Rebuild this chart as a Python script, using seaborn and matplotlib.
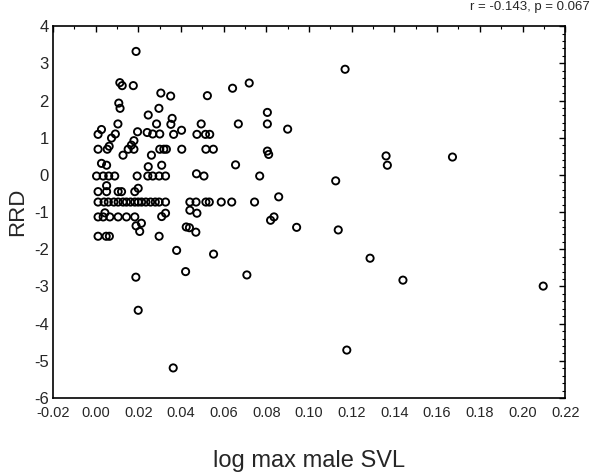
import seaborn as sns
import numpy as np
import pandas as pd
import matplotlib
matplotlib.use("Agg")
import matplotlib.pyplot as plt
from matplotlib.ticker import MultipleLocator

# values
log_svl = [
    0.0190, 0.0114, 0.0125, 0.0177, 0.0306, 0.0352, 0.0524, 0.0642, 0.0720, 0.1169,
    0.0109, 0.0115, 0.0297, 0.0247, 0.0105, 0.0286, 0.0359, 0.0353, 0.0403, 0.0495,
    0.0669, 0.0805, 0.0805, 0.0900, 0.0028, 0.0012, 0.0093, 0.0075, 0.0064, 0.0012,
    0.0055, 0.0129, 0.0153, 0.0180, 0.0180, 0.0168, 0.0197, 0.0242, 0.0268, 0.0301,
    0.0366, 0.0475, 0.0515, 0.0535, 0.0301, 0.0320, 0.0332, 0.0404, 0.0517, 0.0552,
    0.0262, 0.0247, 0.0310, 0.0028, 0.0052, 0.0805, 0.0811, 0.0656, 0.1361, 0.1367,
    0.1672, 0.0473, 0.0508, 0.0769, 0.1125,
    # row near zero
    0.0005, 0.0036, 0.0062, 0.0090, 0.0195, 0.0245, 0.0268, 0.0298, 0.0328,
    0.0052, 0.0012, 0.0052, 0.0106, 0.0122, 0.0184, 0.0200,
    # row near -0.73
    0.0012, 0.0040, 0.0060, 0.0086, 0.0106, 0.0129, 0.0145, 0.0164, 0.0184, 0.0200,
    0.0216, 0.0236, 0.0258, 0.0280, 0.0298, 0.0328, 0.0442, 0.0471, 0.0517, 0.0533,
    0.0589, 0.0638, 0.0745, 0.0858,
    # row near -1.1
    0.0442, 0.0475, 0.0044, 0.0012, 0.0036, 0.0067, 0.0106, 0.0145, 0.0184, 0.0310,
    0.0328, 0.0190, 0.0215, 0.0207, 0.0425, 0.0440, 0.0470, 0.0820, 0.0836, 0.0942,
    0.1137,
    # lower points
    0.0012, 0.0050, 0.0065, 0.0298, 0.0553, 0.0380, 0.0422, 0.0189, 0.0709, 0.1286,
    0.1440, 0.2097, 0.0200, 0.0364, 0.1177,
]
rrd = [
    3.32, 2.48, 2.40, 2.40, 2.20, 2.12, 2.13, 2.33, 2.47, 2.84,
    1.93, 1.79, 1.79, 1.61, 1.37, 1.37, 1.52, 1.36, 1.20, 1.37,
    1.37, 1.68, 1.37, 1.23, 1.22, 1.09, 1.10, 0.99, 0.77, 0.69,
    0.69, 0.53, 0.69, 0.69, 0.92, 0.80, 1.16, 1.14, 1.10, 1.10,
    1.09, 1.09, 1.09, 1.09, 0.69, 0.69, 0.69, 0.69, 0.69, 0.69,
    0.53, 0.22, 0.26, 0.31, 0.26, 0.64, 0.55, 0.27, 0.51, 0.26,
    0.48, 0.03, -0.03, -0.03, -0.16,
    -0.03, -0.03, -0.03, -0.03, -0.03, -0.03, -0.03, -0.03, -0.03,
    -0.29, -0.45, -0.45, -0.45, -0.45, -0.45, -0.36,
    -0.73, -0.73, -0.73, -0.73, -0.73, -0.73, -0.73, -0.73, -0.73, -0.73,
    -0.73, -0.73, -0.73, -0.73, -0.73, -0.73, -0.73, -0.73, -0.73, -0.73,
    -0.73, -0.73, -0.73, -0.59,
    -0.95, -1.03, -1.02, -1.13, -1.13, -1.13, -1.13, -1.13, -1.13, -1.12,
    -1.03, -1.37, -1.30, -1.52, -1.40, -1.42, -1.54, -1.22, -1.13, -1.41,
    -1.48,
    -1.65, -1.65, -1.65, -1.65, -2.13, -2.03, -2.60, -2.75, -2.69, -2.24,
    -2.83, -2.99, -3.64, -5.19, -4.71,
]

df = pd.DataFrame({"log max male SVL": log_svl, "RRD": rrd})

sns.set_style("white")
plt.rcParams["font.family"] = ["Liberation Sans", "DejaVu Sans"]
plt.rcParams["axes.unicode_minus"] = False

fig = plt.figure(figsize=(6, 4.75), dpi=100)
ax = fig.add_axes([0.088, 0.162, 0.854, 0.783])

sns.scatterplot(data=df, x="log max male SVL", y="RRD", ax=ax,
                marker="o", s=27, facecolor="none", edgecolor="black", linewidth=1.35)

ax.set_xlim(-0.02, 0.22)
ax.set_ylim(-6, 4)
ax.xaxis.set_major_locator(MultipleLocator(0.02))
ax.xaxis.set_minor_locator(MultipleLocator(0.01))
ax.yaxis.set_major_locator(MultipleLocator(1))
ax.yaxis.set_minor_locator(MultipleLocator(0.2))
ax.set_xticklabels([f"{v:.2f}" for v in ax.get_xticks()])
ax.tick_params(which="both", direction="in", top=True, right=True, color="black")
ax.tick_params(which="major", length=4, width=1)
ax.tick_params(which="minor", length=2.5, width=0.8)
ax.tick_params(axis="x", labelsize=10.5, pad=6)
ax.tick_params(axis="y", labelsize=12, pad=3)
for s in ax.spines.values():
    s.set_color("black")
    s.set_linewidth(1.2)

ax.set_xlabel("log max male SVL", fontsize=17, labelpad=21)
ax.set_ylabel("RRD", fontsize=16, labelpad=4)

fig.text(0.983, 0.979, "r = -0.143, p = 0.067", ha="right", va="baseline", fontsize=9.5)

fig.savefig("out.png", dpi=100)
